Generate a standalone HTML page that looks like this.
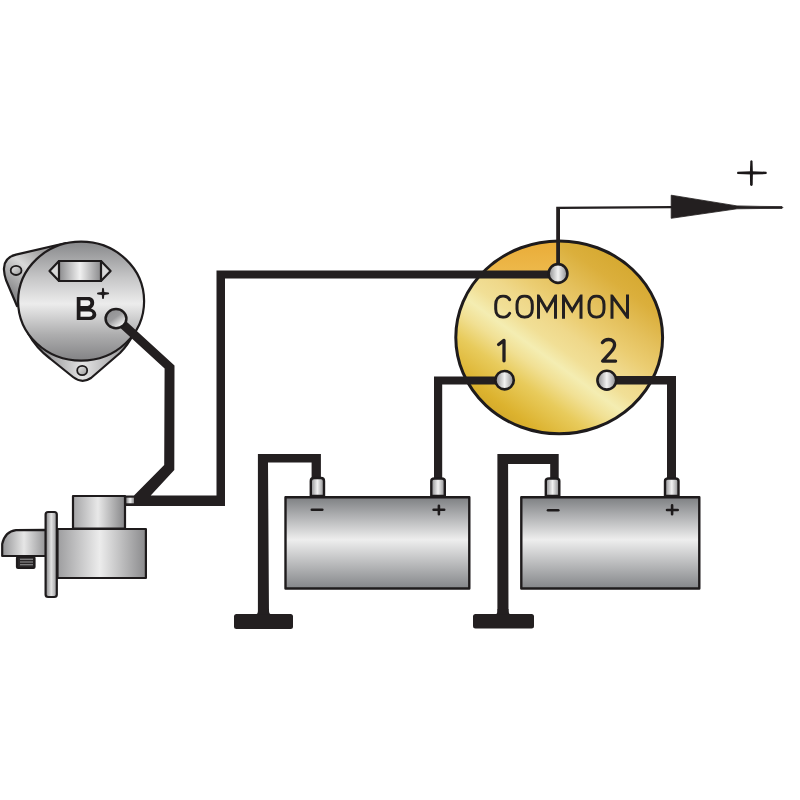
<!DOCTYPE html>
<html><head><meta charset="utf-8"><style>
html,body{margin:0;padding:0;background:#fff;width:800px;height:800px;overflow:hidden}
svg{display:block}
text{font-family:"Liberation Sans",sans-serif}
</style></head><body>
<svg width="800" height="800" viewBox="0 0 800 800">
<defs>
<linearGradient id="altV" x1="0" y1="242" x2="0" y2="361" gradientUnits="userSpaceOnUse">
<stop offset="0" stop-color="#88898b"/><stop offset="0.3" stop-color="#c6c6c7"/><stop offset="0.52" stop-color="#ececec"/><stop offset="0.78" stop-color="#adadae"/><stop offset="1" stop-color="#828284"/>
</linearGradient>
<linearGradient id="ear1" x1="6" y1="292" x2="40" y2="250" gradientUnits="userSpaceOnUse">
<stop offset="0" stop-color="#808082"/><stop offset="0.6" stop-color="#d8d8d8"/><stop offset="1" stop-color="#a0a0a0"/>
</linearGradient>
<linearGradient id="ear2" x1="40" y1="0" x2="125" y2="0" gradientUnits="userSpaceOnUse">
<stop offset="0" stop-color="#8a8a8c"/><stop offset="0.5" stop-color="#e4e4e4"/><stop offset="1" stop-color="#9a9a9c"/>
</linearGradient>
<linearGradient id="slotH" x1="59" y1="0" x2="101" y2="0" gradientUnits="userSpaceOnUse">
<stop offset="0" stop-color="#8c8c8e"/><stop offset="0.5" stop-color="#f0f0f0"/><stop offset="1" stop-color="#8a8a8c"/>
</linearGradient>
<linearGradient id="studG" x1="0.1" y1="0" x2="0.9" y2="1">
<stop offset="0" stop-color="#8e8e90"/><stop offset="0.45" stop-color="#9c9c9e"/><stop offset="0.8" stop-color="#e8e8e8"/><stop offset="1" stop-color="#d4d4d4"/>
</linearGradient>
<linearGradient id="termH" x1="0" y1="0" x2="1" y2="0">
<stop offset="0" stop-color="#8c8c8e"/><stop offset="0.5" stop-color="#f2f2f2"/><stop offset="1" stop-color="#8c8c8e"/>
</linearGradient>
<linearGradient id="holeG" x1="0" y1="0" x2="1" y2="1">
<stop offset="0" stop-color="#e8e8e8"/><stop offset="1" stop-color="#9a9a9a"/>
</linearGradient>
<linearGradient id="batV" x1="0" y1="497" x2="0" y2="588" gradientUnits="userSpaceOnUse">
<stop offset="0" stop-color="#7d7f82"/><stop offset="0.47" stop-color="#eeeeee"/><stop offset="1" stop-color="#85878a"/>
</linearGradient>
<linearGradient id="starH" x1="57" y1="0" x2="146" y2="0" gradientUnits="userSpaceOnUse">
<stop offset="0" stop-color="#9c9c9e"/><stop offset="0.48" stop-color="#ececec"/><stop offset="1" stop-color="#8a8a8c"/>
</linearGradient>
<linearGradient id="solH" x1="73" y1="0" x2="125" y2="0" gradientUnits="userSpaceOnUse">
<stop offset="0" stop-color="#a4a4a6"/><stop offset="0.48" stop-color="#e8e8e8"/><stop offset="1" stop-color="#858587"/>
</linearGradient>
<linearGradient id="noseH" x1="2" y1="0" x2="46" y2="0" gradientUnits="userSpaceOnUse">
<stop offset="0" stop-color="#949496"/><stop offset="0.5" stop-color="#e6e6e6"/><stop offset="1" stop-color="#949496"/>
</linearGradient>
<linearGradient id="flangeH" x1="45.6" y1="0" x2="57" y2="0" gradientUnits="userSpaceOnUse">
<stop offset="0" stop-color="#858587"/><stop offset="0.5" stop-color="#e2e2e2"/><stop offset="1" stop-color="#959597"/>
</linearGradient>
<linearGradient id="gold" x1="416.3" y1="386" x2="563" y2="183.5" gradientUnits="userSpaceOnUse">
<stop offset="0" stop-color="#cca229"/>
<stop offset="0.07" stop-color="#cfa52a"/>
<stop offset="0.14" stop-color="#dcb22e"/>
<stop offset="0.26" stop-color="#e8cb5c"/>
<stop offset="0.34" stop-color="#f1e094"/>
<stop offset="0.40" stop-color="#f4edb2"/>
<stop offset="0.46" stop-color="#f1df96"/>
<stop offset="0.53" stop-color="#efd88a"/>
<stop offset="0.60" stop-color="#ebcd72"/>
<stop offset="0.69" stop-color="#e4c05c"/>
<stop offset="0.80" stop-color="#dbaf3c"/>
<stop offset="0.92" stop-color="#d4a72d"/>
<stop offset="1" stop-color="#d2a52b"/>
</linearGradient>
<linearGradient id="goldTL" x1="0" y1="238" x2="0" y2="271" gradientUnits="userSpaceOnUse">
<stop offset="0" stop-color="#e9ab36"/><stop offset="1" stop-color="#edb84a"/>
</linearGradient>
<clipPath id="tlclip"><rect x="440" y="230" width="117" height="41"/></clipPath>
</defs>

<!-- ===== Alternator ===== -->
<g stroke="#1e1b1c" stroke-width="2.2" stroke-linejoin="round">
  <path d="M66,243 L16,254.6 C8,256.5 3.5,262 4,270 C4.2,274 5,277 6,280 L17,306 Z" fill="url(#ear1)"/>
  <path d="M28,333 Q36,348 50,358.5 L73,377 Q82,384 91,378 L120,353 Q128,345 134,333 Z" fill="url(#ear2)"/>
  <ellipse cx="81.1" cy="301.2" rx="63" ry="59.5" fill="url(#altV)"/>
  <ellipse cx="16.1" cy="270.4" rx="5.4" ry="4.6" fill="url(#holeG)" stroke-width="1.8"/>
  <ellipse cx="82.2" cy="370.5" rx="5" ry="4.6" fill="url(#holeG)" stroke-width="1.8"/>
  <path d="M49.5,271 L59,261 L101,261 L110.6,271 L101,281 L59,281 Z" fill="#d8d8d8"/>
  <rect x="59" y="261" width="42" height="20" fill="url(#slotH)"/>
</g>
<!-- B+ -->
<path d="M76.75,296.9 L88,296.9 C92.5,296.9 94.2,299.5 94.2,302.8 C94.2,305.5 92.8,307.5 91,308.4 C94,309.3 96.3,311.5 96.3,314.5 C96.3,318 93.5,320.1 89,320.1 L76.75,320.1 Z" fill="#1e1b1c"/>
<path d="M80.5,300.3 L87.5,300.3 C89.5,300.3 90.3,301.6 90.3,303.1 C90.3,304.7 89.5,305.9 87.5,305.9 L80.5,305.9 Z" fill="#f0f0f0"/>
<path d="M80.5,311.5 L89,311.5 C91.5,311.5 92.5,312.8 92.5,314.1 C92.5,315.6 91.5,316.8 89,316.8 L80.5,316.8 Z" fill="#efefef"/>
<path d="M97,293.4 Q97,292.4 98.2,292.4 L101.8,291.9 L102.1,288.6 Q103,286.9 103.9,288.6 L104.3,291.9 L108.6,292.5 Q109.9,293.4 108.6,294.3 L104.3,294.9 L103.9,298.2 Q103,299.9 102.1,298.2 L101.8,294.9 L98.2,294.4 Q97,294.4 97,293.4 Z" fill="#1e1b1c"/>

<!-- ===== Switch body ===== -->
<ellipse cx="559.2" cy="337.4" rx="103.4" ry="96.4" fill="url(#gold)"/>
<ellipse cx="559.2" cy="337.4" rx="103.4" ry="96.4" fill="url(#goldTL)" clip-path="url(#tlclip)"/>
<ellipse cx="559.2" cy="337.4" rx="103.4" ry="96.4" fill="none" stroke="#1e1b1c" stroke-width="3"/>

<!-- ===== Wires ===== -->
<g fill="#231f20">
  <!-- alternator -> starter -> switch COMMON -->
  <path d="M119,314.7 L174.5,365.6 L174.3,470 L150.7,495.4 L216.5,495.4 L216.5,270.6 L558,270.6 L558,278.5 L225,278.5 L225,506 L125,506 L125,495.4 L134,495.4 L164.2,465 L164.6,368.6 L113,321.3 Z"/>
  <!-- switch 1 -> battery1 + -->
  <path d="M505,376.4 L434,376.4 L434,479 L442.2,479 L442.2,384.6 L505,384.6 Z"/>
  <!-- switch 2 -> battery2 + -->
  <path d="M607,376 L676,376 L676,479 L667,479 L667,384.4 L607,384.4 Z"/>
  <!-- ground 1 -->
  <path d="M257.9,616 L257.9,454 L320.9,454 L320.9,479 L311.6,479 L311.6,462.4 L268,462.4 L269,616 Z"/>
  <rect x="234" y="614" width="59" height="15" rx="2.5"/>
  <path d="M255.5,614.5 Q258,614 258,611 L258,609 L269,609 L269,611 Q269,614 271.5,614.5 Z"/>
  <!-- ground 2 -->
  <path d="M497.4,616 L497.4,454 L558.7,454 L558.7,479 L550.2,479 L550.2,464.1 L508.1,464.1 L508.5,616 Z"/>
  <rect x="473" y="614" width="61" height="14.5" rx="2.5"/>
  <path d="M495,614.5 Q497.5,614 497.5,611 L497.5,609 L508.5,609 L508.5,611 Q508.5,614 511,614.5 Z"/>
  <!-- thin output -->
  <path d="M556.2,273 L556.2,206.8 L672,206.1 L672,208.2 L560,209 L560,273 Z"/>
  <path d="M671.2,195.2 L737,205.9 L760,206.4 L782,206.6 Q783.6,207.5 782,208.4 L760,208.5 L737,208.8 L671.2,218.3 Z" stroke="#231f20" stroke-width="0.8" stroke-linejoin="round"/>
</g>
<!-- + sign -->
<path d="M737.6,171.7 Q736.5,172.9 737.6,174.1 L751.4,174.5 L766.2,174.1 Q767.4,172.9 766.2,171.7 L751.4,171.3 Z" fill="#1a1718"/>
<path d="M750.3,161 Q751.4,159.5 752.5,161 L752.9,172.9 L752.7,185 Q751.4,186.8 750.1,185 L749.9,172.9 Z" fill="#1a1718"/>

<!-- ===== Starter ===== -->
<g stroke="#1e1b1c" stroke-width="2.2" stroke-linejoin="round">
  <path d="M46,529.8 L16,530.2 Q5,531.5 2.2,544 L2.2,556 L46,556 Z" fill="url(#noseH)"/>
  <rect x="17" y="557" width="17.5" height="11" rx="1" fill="#2a2728" />
  <rect x="73" y="496" width="52" height="32.6" fill="url(#solH)"/>
  <rect x="57.5" y="529" width="88.4" height="49" fill="url(#starH)"/>
  <rect x="45.6" y="512" width="11.2" height="85" rx="2.5" fill="url(#flangeH)"/>
</g>
<rect x="126.3" y="497.7" width="7.7" height="5.6" fill="url(#termH)"/>
<g stroke="#9a9a9a" stroke-width="1.1">
  <path d="M20,559.3 L33,559.3 M20,562 L33,562 M20,564.7 L33,564.7"/>
</g>

<!-- ===== Batteries ===== -->
<g stroke="#1e1b1c" stroke-width="2.4" stroke-linejoin="round">
  <rect x="285.5" y="497.2" width="183.8" height="91.3" fill="url(#batV)"/>
  <rect x="521.3" y="497.2" width="178" height="91.3" fill="url(#batV)"/>
  <path d="M310.8,496 L310.8,481 Q310.8,478 314,478 L321,478 Q324,478 324,481 L324,496 Z" fill="url(#termH)"/>
  <path d="M431.3,496 L431.3,481 Q431.3,478.5 434.5,478.5 L441.5,478.5 Q444.8,478.5 444.8,481 L444.8,496 Z" fill="url(#termH)"/>
  <path d="M545.8,496 L545.8,481 Q545.8,478.5 549,478.5 L556,478.5 Q559.3,478.5 559.3,481 L559.3,496 Z" fill="url(#termH)"/>
  <path d="M665,496 L665,481 Q665,478.5 668.2,478.5 L675.2,478.5 Q678.5,478.5 678.5,481 L678.5,496 Z" fill="url(#termH)"/>
</g>
<g stroke="#1e1b1c" stroke-width="2.6" stroke-linecap="round">
  <path d="M311.8,509.7 L322.3,509.7"/>
  <path d="M433.6,509.8 L444.2,509.8 M438.9,505.8 L438.9,514.3"/>
  <path d="M548,510.2 L558.3,510.2"/>
  <path d="M667,510 L677.7,510 M672.1,505.4 L672.1,514.3"/>
</g>

<!-- ===== Switch terminals & labels ===== -->
<g stroke="#1e1b1c" stroke-width="2.6">
  <circle cx="558" cy="273.5" r="9.4" fill="url(#termH)"/>
  <circle cx="504.6" cy="380.2" r="9.2" fill="url(#termH)"/>
  <circle cx="606.8" cy="380.2" r="9.4" fill="url(#termH)"/>
</g>
<clipPath id="txtclip"><rect x="480" y="294.5" width="160" height="24.3"/></clipPath>
<g fill="none" stroke="#231f20" stroke-width="3" stroke-linejoin="miter" stroke-miterlimit="10" clip-path="url(#txtclip)">
  <path d="M509.6,299.6 C508,297 505.5,296 503,296 C498.5,296 495.7,299.5 495.7,304.5 L495.7,309 C495.7,314 498.5,317.3 503,317.3 C505.5,317.3 508,316.3 509.6,313.4" stroke-linecap="round"/>
  <path d="M524.65,296 C529.5,296 532.3,299.5 532.3,304.5 L532.3,309 C532.3,314 529.5,317.3 524.65,317.3 C519.8,317.3 517,314 517,309 L517,304.5 C517,299.5 519.8,296 524.65,296 Z"/>
  <path d="M538.5,320 L538.5,296 L547,310.5 L555.5,296 L555.5,320"/>
  <path d="M563.5,320 L563.5,296 L572.2,310.5 L581,296 L581,320"/>
  <path d="M596.5,296 C601.3,296 604,299.5 604,304.5 L604,309 C604,314 601.3,317.3 596.5,317.3 C591.7,317.3 589,314 589,309 L589,304.5 C589,299.5 591.7,296 596.5,296 Z"/>
  <path d="M612,320 L612,296 L627.5,317.3 L627.5,292"/>
</g>
<g fill="none" stroke="#231f20" stroke-width="3.3" stroke-linecap="round" stroke-linejoin="round">
  <path d="M498.6,344.5 L504,340.4 L504,360.8"/>
  <path d="M602.4,342.6 C604,340.2 606.3,339.5 608.6,339.5 C612.3,339.5 614.6,341.8 614.6,344.7 C614.6,347.2 613.4,349.1 611.3,351.5 L602.6,361.1 L615.6,361.1"/>
</g>
<!-- stud on alternator -->
<ellipse cx="116" cy="318.6" rx="10.4" ry="9.6" fill="url(#studG)" stroke="#1e1b1c" stroke-width="2.5"/>
</svg>
</body></html>
